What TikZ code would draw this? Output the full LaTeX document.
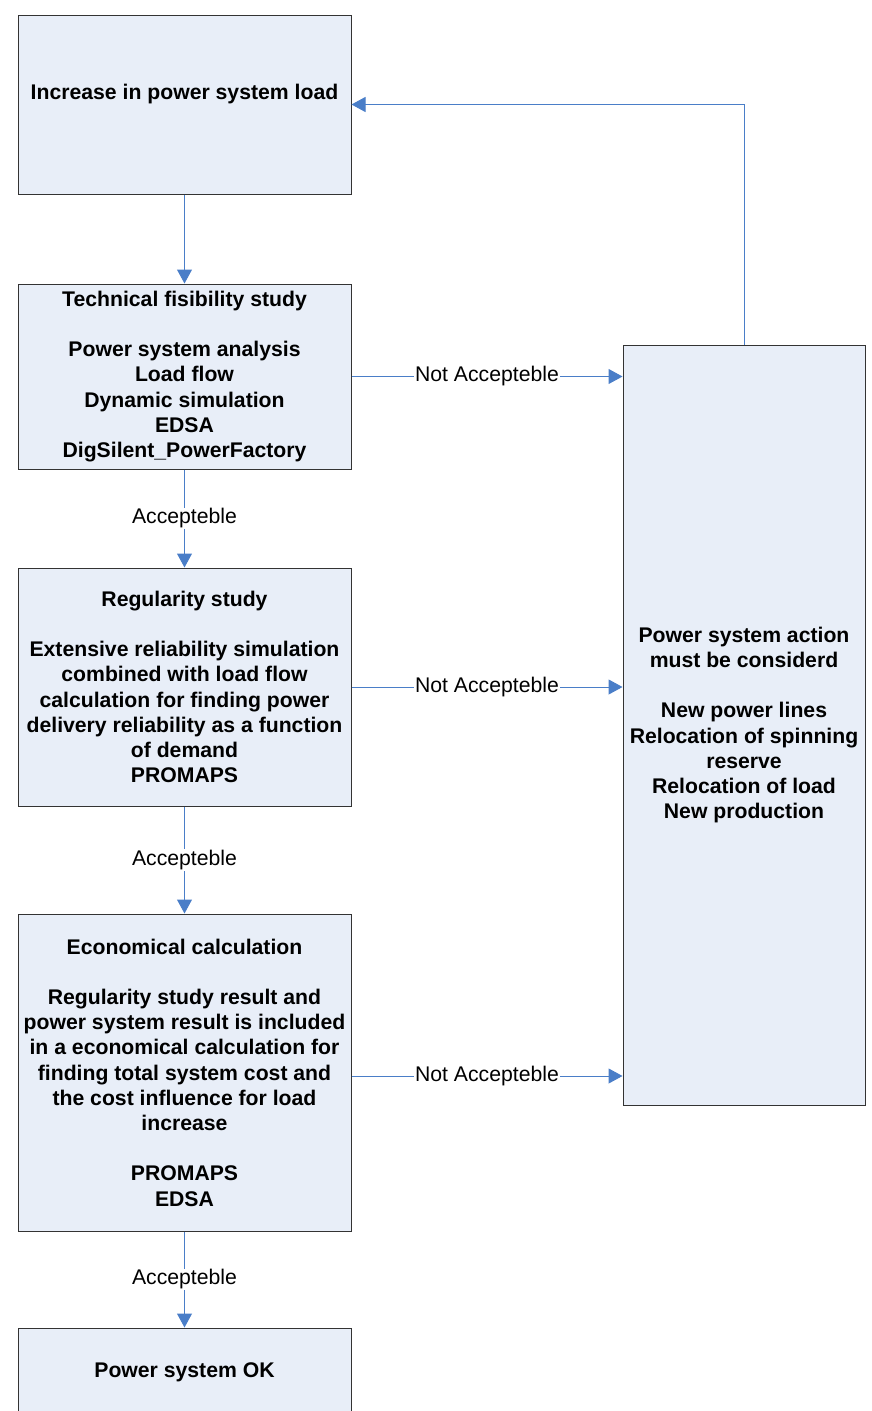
\documentclass[tikz,border=0pt]{standalone}
\usepackage{fontspec}
\setmainfont{Liberation Sans}
\usetikzlibrary{arrows.meta,calc}
\definecolor{boxfill}{HTML}{E8EEF8}
\definecolor{boxline}{HTML}{333333}
\definecolor{arrowblue}{HTML}{4A7EC8}
\begin{document}
\begin{tikzpicture}[x=1pt,y=-1pt,
  box/.style={draw=boxline,line width=1pt,fill=boxfill,minimum width=333pt,inner sep=0pt,align=center,
    font=\fontsize{21.2}{25.2}\selectfont\bfseries},
  arr/.style={draw=arrowblue,line width=1pt,-{Triangle[length=14pt,width=15pt]}},
  lbl/.style={fill=white,inner sep=1pt,font=\fontsize{21.2}{25.2}\selectfont}]
\clip (0,0) rectangle (872,1411);
\fill[white] (0,0) rectangle (872,1411);
\node[box,minimum height=179pt] (b1) at (184.5,104.5) {Increase in power system load\\ \mbox{}};
\node[box,minimum height=185pt] (b2) at (184.5,376.5) {Technical fisibility study\\ \mbox{}\\ Power system analysis\\ Load flow\\ Dynamic simulation\\ EDSA\\ DigSilent\_PowerFactory};
\node[box,minimum height=238pt] (b3) at (184.5,687) {Regularity study\\ \mbox{}\\ Extensive reliability simulation\\ combined with load flow\\ calculation for finding power\\ delivery reliability as a function\\ of demand\\ PROMAPS};
\node[box,minimum height=317pt] (b4) at (184.5,1072.5) {Economical calculation\\ \mbox{}\\ Regularity study result and\\ power system result is included\\ in a economical calculation for\\ finding total system cost and\\ the cost influence for load\\ increase\\ \mbox{}\\ PROMAPS\\ EDSA};
\node[box,minimum height=110pt] (b5) at (184.5,1383) {Power system OK\\ \mbox{}};
\node[box,minimum width=242pt,minimum height=760pt] (act) at (744,725) {Power system action\\ must be considerd\\ \mbox{}\\ New power lines\\ Relocation of spinning\\ reserve\\ Relocation of load\\ New production};
\draw[arr] (b1.south) -- (b2.north);
\draw[arr] (b2.south) -- node[lbl] {Accepteble} (b3.north);
\draw[arr] (b3.south) -- node[lbl] {Accepteble} (b4.north);
\draw[arr] (b4.south) -- node[lbl] {Accepteble} (b5.north);
\draw[arr] (b2.east) -- node[lbl] {Not Accepteble} (b2.east -| act.west);
\draw[arr] (b3.east) -- node[lbl] {Not Accepteble} (b3.east -| act.west);
\draw[arr] ([yshift=-3.5pt]b4.east) -- node[lbl] {Not Accepteble} ([yshift=-3.5pt]b4.east -| act.west);
\draw[arr] (act.north) |- (b1.east);
\end{tikzpicture}
\end{document}
